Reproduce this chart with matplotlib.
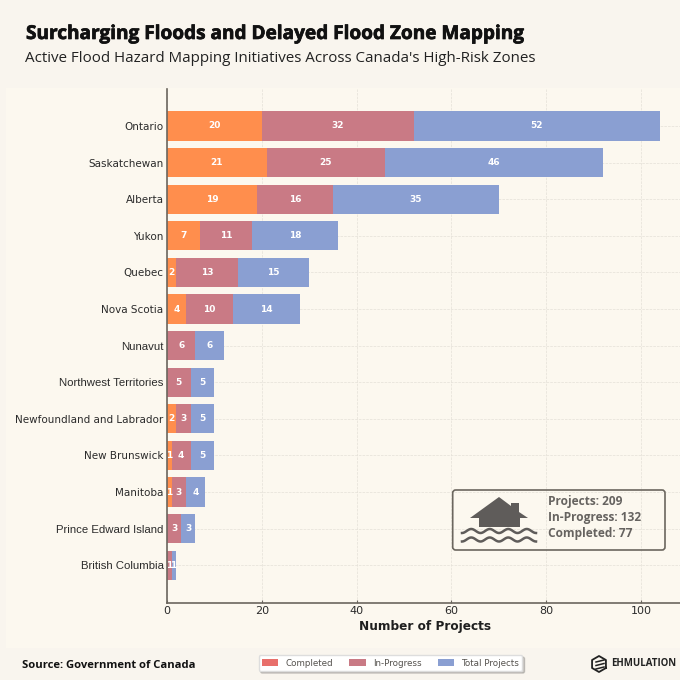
import numpy as np
import matplotlib
matplotlib.use("Agg")
import matplotlib.pyplot as plt
from matplotlib import patheffects
from matplotlib.patches import FancyBboxPatch, Patch, Polygon, Rectangle

provinces = ["Ontario", "Saskatchewan", "Alberta", "Yukon", "Quebec", "Nova Scotia", "Nunavut",
             "Northwest Territories", "Newfoundland and Labrador", "New Brunswick", "Manitoba",
             "Prince Edward Island", "British Columbia"]
completed = [20, 21, 19, 7, 2, 4, 0, 0, 2, 1, 1, 0, 0]
in_progress = [32, 25, 16, 11, 13, 10, 6, 5, 3, 4, 3, 3, 1]
total_projects = [52, 46, 35, 18, 15, 14, 6, 5, 5, 5, 4, 3, 1]
xticks = [0, 20, 40, 60, 80, 100]
legend_labels = ["Completed", "In-Progress", "Total Projects"]
summary_lines = ["Projects: 209", "In-Progress: 132", "Completed: 77"]

BG = "#F9F5EE"
PANEL = "#FCF8EF"
ORANGE = "#FF8E4D"
ROSE = "#C97A85"
BLUE = "#8A9FD2"
LEGEND_RED = "#E86F6B"
DARK = "#2B2B2B"
ICON = "#5F5C5A"
# these labels come out in a narrower face in the original
arial_labels = {"Nunavut", "Northwest Territories", "Prince Edward Island", "British Columbia"}

fig = plt.figure(figsize=(6.8, 6.8), dpi=100, facecolor=BG)

# pixel-coordinate layer for everything outside the plot
ov = fig.add_axes([0, 0, 1, 1], zorder=0)
ov.set_xlim(0, 680)
ov.set_ylim(680, 0)
ov.axis("off")
ov.add_patch(Rectangle((6, 88), 674, 560, fc=PANEL, ec="none"))

ax = fig.add_axes([167 / 680, 77 / 680, 513 / 680, 514 / 680], zorder=1)
ax.patch.set_alpha(0)
y = np.arange(len(provinces))
left = np.zeros(len(provinces))
for values, color in zip([completed, in_progress, total_projects], [ORANGE, ROSE, BLUE]):
    values = np.array(values)
    ax.barh(y, values, left=left, height=0.8, color=color, zorder=2)
    for yi, start, v in zip(y, left, values):
        if v > 0:
            ax.text(start + v / 2 - (0.1 if v == 1 else 0), yi, str(v), ha="center", va="center",
                    color="white", fontsize=6.5, fontweight="bold", zorder=3)
    left = left + values

ax.set_xlim(0, 108.2)
ax.set_ylim(13.03, -1.01)
ax.set_xticks(xticks)
ax.set_yticks(y)
ax.set_yticklabels(provinces, fontsize=7.5, color=DARK)
for lab in ax.get_yticklabels():
    if lab.get_text() in arial_labels:
        lab.set_fontfamily("Liberation Sans")
        lab.set_fontsize(8.2)
ax.tick_params(axis="y", length=0, pad=2.5)
ax.tick_params(axis="x", direction="in", length=2.5, width=0.8, color="#6B665E", labelsize=8,
               labelcolor=DARK, pad=2.5)
ax.grid(True, linestyle="--", linewidth=0.5, color="#E4E0D8", zorder=0)
ax.set_axisbelow(True)
for side in ["top", "right"]:
    ax.spines[side].set_visible(False)
for side in ["left", "bottom"]:
    ax.spines[side].set_color("#6B665E")
    ax.spines[side].set_linewidth(1.2)
ax.set_xlabel("Number of Projects", fontsize=8.7, fontweight="bold", color="#1F1F1F", labelpad=2.5, x=0.504)

# titles
top = fig.add_axes([0, 0, 1, 1], zorder=2)
top.set_xlim(0, 680)
top.set_ylim(680, 0)
top.axis("off")
top.patch.set_alpha(0)
title = top.text(26, 34, "Surcharging Floods and Delayed Flood Zone Mapping", fontsize=13.7, fontweight="bold",
                 family="Open Sans", color="#111111", va="center")
title.set_path_effects([patheffects.withStroke(linewidth=0.5, foreground="#111111")])
top.text(25, 58, "Active Flood Hazard Mapping Initiatives Across Canada's High-Risk Zones", fontsize=10.9,
         family="Open Sans", color="#222222", va="center")
top.text(22, 665, "Source: Government of Canada", fontsize=8.1, fontweight="bold", family="Open Sans",
         color="#111111", va="center")

# summary box with flooded house
top.add_patch(FancyBboxPatch((452.7, 490), 212.3, 60, boxstyle="round,pad=0,rounding_size=3",
                             fc="none", ec="#6B665E", lw=1.2))
top.add_patch(Polygon([(470, 518), (499, 497), (511, 506), (511, 503), (519, 503), (519, 512), (528, 518),
                       (520, 518), (520, 527), (479, 527), (479, 518)], fc=ICON, ec="none"))
wave_x = np.linspace(462, 536, 120)
for wy in [531, 539.5]:
    top.plot(wave_x, wy + 2 * np.cos((wave_x - 462) * 2 * np.pi / 18.5), color=ICON, lw=1.8)
for line, ty in zip(summary_lines, [502, 518, 533]):
    top.text(547.5, ty, line, fontsize=8.6, fontweight="bold", family="Open Sans", color="#666360", va="center")

# legend
handles = [Patch(fc=c, label=l) for c, l in zip([LEGEND_RED, ROSE, BLUE], legend_labels)]
fig.legend(handles=handles, loc="center", bbox_to_anchor=(390.5 / 680, 1 - 663 / 680), ncol=3, fontsize=6.3,
           frameon=True, fancybox=True, shadow={"ox": 1.5, "oy": -1.5, "alpha": 0.25}, facecolor="white",
           edgecolor="#DDDDDD", labelcolor="#55524E", columnspacing=1.9, handlelength=1.85, handletextpad=0.8,
           borderpad=0.4)

# logo
t = np.deg2rad(np.arange(30, 391, 60))
top.plot(599 + 8 * np.cos(t), 664 + 8 * np.sin(t), color="#222222", lw=1.3)
for ly in [661, 664.5, 668]:
    top.plot([596, 604], [ly + 1, ly - 1], color="#222222", lw=1.1)
top.text(611, 664, "EHMULATION", fontsize=6.9, fontweight="bold", family="Open Sans", color="#222222", va="center")

fig.savefig("out.png", dpi=100, facecolor=BG)
